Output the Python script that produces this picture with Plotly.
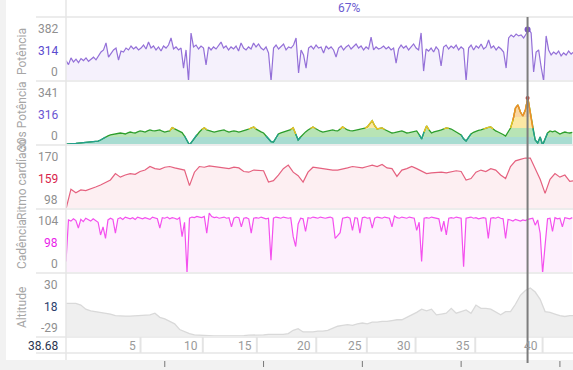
import numpy as np
import plotly.graph_objects as go

W, H, L = 573, 370, 66

# ---------------- data ----------------
POWER_DT = 0.5063  # minutes per sample
POWER = [150, 120, 170, 140, 160, 135, 165, 150, 170, 145, 160, 175, 155, 180,
         213, 228, 280, 176, 206, 228, 242, 154, 220, 213, 242, 228, 257, 235, 250, 228, 242,
         264, 235, 286, 242, 257, 228, 250, 220, 257, 242, 264, 316, 235, 250, 228, 242, 95, 228, 0, 352, 250, 264, 235, 257, 242, 118, 250,
         228, 250, 235, 264, 286, 242, 257, 228, 250, 235, 257, 220, 279, 242, 228, 250, 235, 279, 250, 272, 242, 228, 250, 206, 0,
         242, 264, 235, 250, 272, 228, 250, 242, 264, 316, 59, 228, 191, 95, 242, 257, 235, 264, 242, 250, 206, 257, 235, 250, 228, 176,
         242, 257, 228, 250, 264, 235, 250, 272, 242, 257, 228, 250, 235, 323, 228, 250, 235,
         242, 257, 235, 250, 228, 242, 132, 235, 264, 242, 257, 228, 250, 272, 242, 228, 353, 73, 235, 220,
         242, 213, 250, 228, 110, 250, 264, 235, 257, 242, 264, 228, 250, 235, 0, 242, 264, 228, 257, 242,
         272, 235, 250, 301, 242, 257, 228, 250, 235, 213, 95, 316, 338, 323, 345, 331, 338, 316, 345, 382,
         353, 66, 213, 228, 103, 0, 331, 228, 191, 213, 198, 220, 184, 206, 191, 220, 198, 213, 206, 213]

POWER30_DT = 0.5
POWER30 = [7, 7, 7, 8, 11, 13, 15, 15, 15, 16,
           18, 20, 22, 28, 36, 48, 58, 66, 73, 77,
           80, 84, 87, 84, 80, 88, 94, 90, 87, 95,
           102, 98, 94, 102, 109, 105, 102, 106, 109, 100,
           94, 98, 102, 126, 116, 108, 102, 90, 65, 30,
           0, 25, 51, 76, 94, 112, 125, 110, 102, 98,
           94, 100, 102, 106, 109, 100, 94, 98, 102, 98,
           94, 98, 102, 110, 116, 124, 131, 115, 102, 95,
           87, 65, 44, 25, 22, 50, 80, 88, 94, 98,
           102, 112, 125, 80, 36, 58, 80, 95, 109, 120,
           131, 120, 109, 100, 94, 98, 102, 106, 109, 105,
           102, 115, 131, 120, 109, 105, 102, 106, 109, 112,
           116, 122, 131, 155, 176, 140, 116, 120, 124, 112,
           102, 94, 87, 90, 94, 98, 102, 95, 87, 90,
           94, 98, 102, 75, 44, 95, 138, 110, 87, 95,
           102, 105, 109, 116, 124, 120, 116, 105, 94, 84,
           73, 45, 29, 55, 80, 92, 102, 106, 109, 116,
           124, 128, 131, 116, 102, 94, 87, 76, 65, 95,
           123, 181, 268, 290, 239, 210, 254, 341, 239, 123,
           36, 15, 58, 0, 51, 87, 102, 95, 102, 90,
           80, 88, 94, 90, 87, 92]
ZONES_30S = [58, 123, 203]

HR_DT = 1.0
HR = [98, 126, 121, 125, 124, 126, 129, 132, 136, 139,
      148, 143, 146, 148, 147, 151, 153, 158, 155, 154,
      157, 158, 156, 155, 153, 131, 150, 158, 157, 159,
      158, 157, 156, 155, 157, 156, 151, 150, 153, 152,
      152, 136, 138, 146, 155, 160, 150, 145, 136, 150,
      157, 156, 155, 153, 153, 153, 154, 156, 158, 157,
      156, 158, 160, 158, 161, 156, 155, 144, 153, 155,
      158, 155, 151, 148, 149, 150, 150, 149, 151, 152,
      151, 139, 141, 150, 153, 151, 155, 153, 146, 141,
      158, 166, 168, 170, 170, 155, 140, 120, 140, 148,
      143, 146, 137, 138]

CADENCE_DT = 0.5
CADENCE = [20, 92, 90, 94, 91, 78, 93, 89, 95, 92,
           90, 94, 91, 88, 66, 80, 60, 92, 95, 93,
           69, 94, 96, 93, 97, 95, 94, 96, 93, 97,
           95, 94, 96, 95, 93, 97, 95, 94, 78, 96,
           95, 97, 94, 96, 95, 93, 96, 63, 88, 0,
           95, 97, 96, 98, 97, 96, 98, 69, 104, 98,
           96, 97, 95, 96, 97, 95, 96, 80, 95, 97,
           96, 80, 95, 96, 94, 69, 95, 96, 95, 97,
           96, 94, 95, 22, 95, 97, 96, 95, 97, 96,
           95, 96, 63, 46, 85, 95, 94, 72, 96, 95,
           97, 96, 95, 97, 96, 95, 96, 97, 95, 60,
           65, 70, 95, 96, 97, 95, 74, 96, 95, 69,
           96, 97, 95, 96, 78, 95, 97, 96, 95, 97,
           96, 95, 80, 99, 96, 95, 97, 96, 95, 97,
           96, 95, 74, 88, 20, 95, 96, 95, 97, 96,
           95, 94, 72, 90, 66, 95, 96, 95, 97, 96,
           95, 11, 95, 96, 97, 95, 96, 94, 95, 96,
           95, 60, 95, 96, 95, 97, 95, 94, 60, 93,
           92, 90, 93, 91, 90, 92, 91, 93, 94, 95,
           83, 92, 69, 0, 48, 94, 95, 72, 96, 94,
           95, 80, 96, 95, 94, 96]

ALT_DT = 1.0
ALTITUDE = [11, 11, 11, 9, 4, 2, 1, 0, -1, -2,
            -4, -4.5, -4.5, -4.5, -4, -3.5, -3, -3, -1, -6,
            -8, -11, -14, -21, -24, -26, -27.5, -28, -28.5, -28.5,
            -29, -29, -29, -29, -28.5, -28.5, -28.5, -28, -28, -27.5,
            -27.5, -27, -27, -27, -27, -26, -22, -20, -24, -24,
            -24, -23, -23, -22, -19, -17, -16, -15, -16, -14,
            -13, -14, -12, -12, -11, -11, -10, -9, -9, -6,
            -4, 0, 4, 2, 4, -3, -2, -1, 5, -1,
            1, 3, -1, 9, 5, 5, 4, 0, -3, 1,
            1, 10, 21, 27, 30, 25, 16, 1, 0, -2,
            -4, -5, -4, -4]

DIST_KM = [5, 10, 15, 20, 25, 30, 35, 40]
DIST_T = [15.09, 27.70, 38.64, 50.67, 60.91, 70.77, 82.86, 96.49]
TIME_TICKS = [20, 40, 60, 80, 100]
X_RANGE = [0, 102.65]

CURSOR_T = 93.45
CURSOR_DIST = "38.68"
CURSOR_POWER = 378
CURSOR_POWER30 = 341
TOP_TEXT = "67%"

TITLES = ["Potência", "30s Potência", "Ritmo cardíaco", "Cadência", "Altitude"]
LABEL_MAX = ["382", "341", "170", "104", "30"]
LABEL_MID = ["314", "316", "159", "98", "18"]
LABEL_MIN = ["0", "0", "98", "0", "-29"]
MID_COLORS = ["#5b4bcf", "#6a55d2", "#d81e4c", "#ea1fea", "#2b3d6b"]
Y_RANGES = [[0, 470], [0, 464], [98, 188.4], [0, 111], [-30.2, 48.4]]

# ---------------- helpers (layout) ----------------
def yp(py):
    return 1 - py / H

def xp(px):
    return (px - L) / (W - L)

PANEL_TOP = [17, 81, 145, 209, 273]
PANEL_H = 64
FONT = "Roboto, Arial, sans-serif"

fig = go.Figure()

def axn(k):
    return "" if k == 0 else str(k + 1)

# Power
tP = np.arange(len(POWER)) * POWER_DT
fig.add_trace(go.Scatter(x=tP, y=POWER, mode="lines", line=dict(color="#9470d8", width=1.2),
                         fill="tozeroy", fillcolor="#f5f1fc", xaxis="x", yaxis="y", hoverinfo="skip"))
fig.add_trace(go.Scatter(x=[CURSOR_T], y=[CURSOR_POWER], mode="markers",
                         marker=dict(color="#7a52c8", size=6), xaxis="x", yaxis="y"))

# 30s power with zones
t30 = np.arange(len(POWER30)) * POWER30_DT
v30 = np.array(POWER30, dtype=float)
z1, z2, z3 = ZONES_30S
fills = [(np.minimum(v30, z1), "#a8dcd1", "tozeroy"),
         (np.minimum(v30, z2), "#b8e4b5", "tonexty"),
         (np.minimum(v30, z3), "#fce8a4", "tonexty"),
         (v30, "#fbd6a2", "tonexty")]
for yv, fc, fm in fills:
    fig.add_trace(go.Scatter(x=t30, y=yv, mode="lines", line=dict(width=0, color=fc),
                             fill=fm, fillcolor=fc, xaxis="x2", yaxis="y2", hoverinfo="skip"))

def seg(vals, cond):
    out = []
    n = len(vals)
    for i in range(n):
        keep = cond[i] or (i > 0 and cond[i - 1]) or (i + 1 < n and cond[i + 1])
        out.append(vals[i] if keep else None)
    return out

fig.add_trace(go.Scatter(x=t30, y=v30, mode="lines", line=dict(color="#2c9e2c", width=1.3),
                         xaxis="x2", yaxis="y2"))
fig.add_trace(go.Scatter(x=t30, y=seg(list(v30), list(v30 < z1)), mode="lines",
                         line=dict(color="#23a08f", width=1.3), xaxis="x2", yaxis="y2", connectgaps=False))
fig.add_trace(go.Scatter(x=t30, y=seg(list(v30), list(v30 > z2)), mode="lines",
                         line=dict(color="#f3c21f", width=1.3), xaxis="x2", yaxis="y2", connectgaps=False))
fig.add_trace(go.Scatter(x=t30, y=seg(list(v30), list(v30 > z3)), mode="lines",
                         line=dict(color="#ef8a2c", width=1.3), xaxis="x2", yaxis="y2", connectgaps=False))
fig.add_trace(go.Scatter(x=[CURSOR_T], y=[CURSOR_POWER30], mode="markers",
                         marker=dict(color="#c0392b", size=4), xaxis="x2", yaxis="y2"))

# Heart rate
tH = np.arange(len(HR)) * HR_DT
fig.add_trace(go.Scatter(x=tH, y=HR, mode="lines", line=dict(color="#e5617f", width=1.2),
                         fill="tozeroy", fillcolor="#fdeff2", xaxis="x3", yaxis="y3"))

# Cadence
tC = np.arange(len(CADENCE)) * CADENCE_DT
fig.add_trace(go.Scatter(x=tC, y=CADENCE, mode="lines", line=dict(color="#f450ee", width=1.2),
                         fill="tozeroy", fillcolor="#fdf0fd", xaxis="x4", yaxis="y4"))

# Altitude
tA = np.arange(len(ALTITUDE)) * ALT_DT
fig.add_trace(go.Scatter(x=tA, y=[Y_RANGES[4][0]] * len(ALTITUDE), mode="lines",
                         line=dict(width=0, color="#efefef"), xaxis="x5", yaxis="y5"))
fig.add_trace(go.Scatter(x=tA, y=ALTITUDE, mode="lines", line=dict(color="#d9d9d9", width=1.3),
                         fill="tonexty", fillcolor="#efefef", xaxis="x5", yaxis="y5"))

layout = dict(width=W, height=H, margin=dict(l=L, r=0, t=0, b=0, autoexpand=False),
              paper_bgcolor="white", plot_bgcolor="rgba(0,0,0,0)", showlegend=False,
              font=dict(family=FONT, size=12, color="#999"), hovermode=False)
for k in range(5):
    a = axn(k)
    layout["xaxis" + a] = dict(domain=[0, 1], range=X_RANGE, visible=False, anchor="y" + a, fixedrange=True)
    top = PANEL_TOP[k]
    layout["yaxis" + a] = dict(domain=[yp(top + PANEL_H), yp(top)], range=Y_RANGES[k],
                               visible=False, anchor="x" + a, fixedrange=True)

shapes = []
shapes.append(dict(type="rect", xref="paper", yref="paper", x0=xp(0), x1=xp(6), y0=0, y1=1,
                   fillcolor="#f2f2f2", line=dict(width=0), layer="below"))
shapes.append(dict(type="rect", xref="paper", yref="paper", x0=xp(0), x1=1, y0=0, y1=yp(360),
                   fillcolor="#f2f2f2", line=dict(width=0), layer="below"))
for py in [17, 81, 145, 209, 273, 337, 353]:
    shapes.append(dict(type="line", xref="paper", yref="paper", x0=xp(36), x1=1, y0=yp(py), y1=yp(py),
                       line=dict(color="#ececec", width=2), layer="above"))
shapes.append(dict(type="line", xref="paper", yref="paper", x0=0, x1=0, y0=yp(0), y1=yp(360),
                   line=dict(color="#e6e6e6", width=1.5)))
for t in DIST_T:
    shapes.append(dict(type="line", xref="x", yref="paper", x0=t, x1=t, y0=yp(353), y1=yp(337),
                       line=dict(color="#e4e4e4", width=2)))
for t in TIME_TICKS:
    shapes.append(dict(type="line", xref="x", yref="paper", x0=t, x1=t, y0=yp(361), y1=yp(367),
                       line=dict(color="#777", width=1)))
shapes.append(dict(type="line", xref="x", yref="paper", x0=CURSOR_T, x1=CURSOR_T, y0=yp(17), y1=yp(363),
                   line=dict(color="#7d7d7d", width=2), layer="above"))
layout["shapes"] = shapes

ann = []
for k in range(5):
    top = PANEL_TOP[k]
    ann.append(dict(text=TITLES[k], x=xp(22), y=yp(top + 35), xref="paper", yref="paper",
                    xanchor="center", yanchor="middle",
                    textangle=-90, showarrow=False, font=dict(size=12, color="#a6a6a6", family=FONT)))
    for txt, off, col in [(LABEL_MAX[k], 12, "#8f8f8f"), (LABEL_MID[k], 34, MID_COLORS[k]),
                          (LABEL_MIN[k], 55, "#8f8f8f")]:
        ann.append(dict(text=txt, x=xp(60), y=yp(top + off), xref="paper", yref="paper",
                        xanchor="right", yanchor="middle", showarrow=False,
                        font=dict(size=12, color=col, family=FONT)))
ann.append(dict(text=CURSOR_DIST, x=xp(60), y=yp(346), xref="paper", yref="paper", xanchor="right",
                yanchor="middle", showarrow=False, font=dict(size=12, color="#2b3550", family=FONT)))
for km, t in zip(DIST_KM, DIST_T):
    ann.append(dict(text=str(km), x=t, y=yp(346), xref="x", yref="paper", xanchor="right", xshift=-3,
                    yanchor="middle", showarrow=False, font=dict(size=12, color="#9a9a9a", family=FONT)))
ann.append(dict(text=TOP_TEXT, x=xp(349), y=yp(8), xref="paper", yref="paper", showarrow=False,
                xanchor="center", yanchor="middle", font=dict(size=12, color="#6b5bd0", family=FONT)))
layout["annotations"] = ann

fig.update_layout(**layout)
fig.write_html("out.html", config={"displayModeBar": False},
               post_script="document.body.style.margin='0';document.body.style.overflow='hidden';")
